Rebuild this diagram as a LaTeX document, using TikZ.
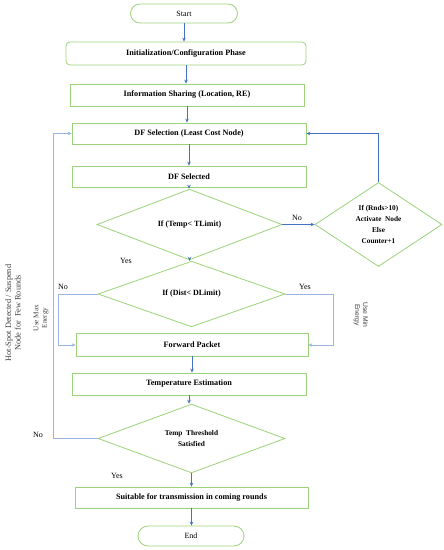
\documentclass[tikz,border=0pt]{standalone}
\usepackage{fontspec}
\setmainfont{Liberation Serif}
\newfontfamily\sansf{Liberation Sans}
\usetikzlibrary{shapes.geometric,arrows.meta}
\definecolor{gborder}{HTML}{9BD27A}
\definecolor{ablue}{HTML}{4472C4}
\definecolor{lblue}{HTML}{9DB5E3}
\tikzset{
  x=1pt,y=-1pt,
  boxnode/.style={draw=gborder,line width=0.8pt,rectangle,inner sep=0pt,font=\fontsize{8.2}{9.5}\selectfont\bfseries,align=center},
  stadium/.style={boxnode,rounded corners=9.5pt,font=\fontsize{8}{9.5}\selectfont},
  decision/.style={draw=gborder,line width=0.8pt,diamond,aspect=1,inner sep=0pt,font=\fontsize{8}{9.5}\selectfont\bfseries,align=center},
  arr/.style={draw=ablue,line width=0.8pt,-{Stealth[length=4pt,width=3.5pt]}},
  larr/.style={draw=lblue,line width=0.9pt,-{Stealth[length=4pt,width=3.5pt,fill=ablue]}},
  lbl/.style={font=\fontsize{8}{9}\selectfont,inner sep=0pt},
  side/.style={font=\fontsize{7.2}{8.4}\selectfont,inner sep=0pt,align=center,text=black!75},
}
\begin{document}
\begin{tikzpicture}
\useasboundingbox (0,0) rectangle (444,550);
\node[stadium,minimum width=107pt,minimum height=19pt] (start) at (184,13.5) {Start};
\node[boxnode,rounded corners=4pt,minimum width=240pt,minimum height=23pt] (init) at (186,53.5) {Initialization/Configuration Phase};
\node[boxnode,minimum width=234pt,minimum height=22pt] (info) at (187,95) {Information Sharing (Location, RE)};
\node[boxnode,minimum width=234pt,minimum height=21pt] (dfsel) at (189,133.5) {DF Selection (Least Cost Node)};
\node[boxnode,minimum width=234pt,minimum height=21pt] (dfsd) at (189,176.5) {DF Selected};
\node[decision,minimum width=185pt,minimum height=55pt] (d1) at (189.5,224.5) {If (Temp< TLimit)};
\node[decision,minimum width=127pt,minimum height=59pt,font=\fontsize{7.3}{11}\selectfont\bfseries] (dr) at (378.5,224.5) {If (Rnds>10)\\Activate\ \ Node\\Else\\Counter+1};
\node[decision,minimum width=187pt,minimum height=56pt] (d3) at (191.5,294) {If (Dist< DLimit)};
\node[boxnode,minimum width=232pt,minimum height=23pt] (fwd) at (192,344.5) {Forward Packet};
\node[boxnode,minimum width=234pt,minimum height=22pt] (temp) at (189,384) {Temperature Estimation};
\node[decision,minimum width=187pt,minimum height=55pt,font=\fontsize{7.3}{10.5}\selectfont\bfseries] (d4) at (191.5,438.5) {Temp\ \ Threshold\\Satisfied};
\node[boxnode,minimum width=233pt,minimum height=21pt] (suit) at (191.5,497.5) {Suitable for transmission in coming rounds};
\node[stadium,minimum width=106pt,minimum height=20pt,rounded corners=10pt] (end) at (191,536) {End};

\coordinate (lp1) at (58,294);
\coordinate (lp2) at (58,345);
\coordinate (rp1) at (333,294);
\coordinate (rp2) at (333,345);
\coordinate (bl1) at (53,438.5);
\coordinate (bl2) at (53,133.5);

\draw[arr] (start.south) -- (start.south |- init.north);
\draw[arr] (init.south) -- (init.south |- info.north);
\draw[arr] (info.south) -- (info.south |- dfsel.north);
\draw[arr] (dfsel.south) -- (dfsel.south |- dfsd.north);
\draw[arr] (dfsd.south) -- (dfsd.south |- d1.north);
\draw[arr] (d1.south) -- (d1.south |- d3.north);
\draw[arr] (fwd.south) -- (fwd.south |- temp.north);
\draw[arr] (temp.south) -- (temp.south |- d4.north);
\draw[arr] (d4.south) -- (d4.south |- suit.north);
\draw[arr] (suit.south) -- (suit.south |- end.north);
\draw[arr] (d1.east) -- (dr.west);
\draw[arr] (dr.north) |- (dfsel.east);
\draw[larr] (d3.west) -- (lp1) -- (lp2) -- (fwd.west |- lp2);
\draw[larr] (d3.east) -- (rp1) -- (rp2) -- (fwd.east |- rp2);
\draw[larr] (d4.west) -- (bl1) -- (bl2) -- (dfsel.west);

\node[lbl] (no1) at (297,218) {No};
\node[lbl] (yes1) at (126,261) {Yes};
\node[lbl] (no2) at (63,287) {No};
\node[lbl] (yes2) at (305,287) {Yes};
\node[lbl] (no3) at (38,435) {No};
\node[lbl] (yes3) at (117,476) {Yes};

\node[side,rotate=90,font=\fontsize{8.3}{9.5}\selectfont] (hot) at (13,313) {Hot-Spot Detected / Suspend\\Node for\ \ Few Rounds};
\node[side,rotate=90] (umax) at (41,318) {Use Max\\Energy};
\node[side,rotate=-90,font=\fontsize{6.8}{8}\selectfont\sansf] (umin) at (361,315) {Use Min\\Energy};
\end{tikzpicture}
\end{document}
